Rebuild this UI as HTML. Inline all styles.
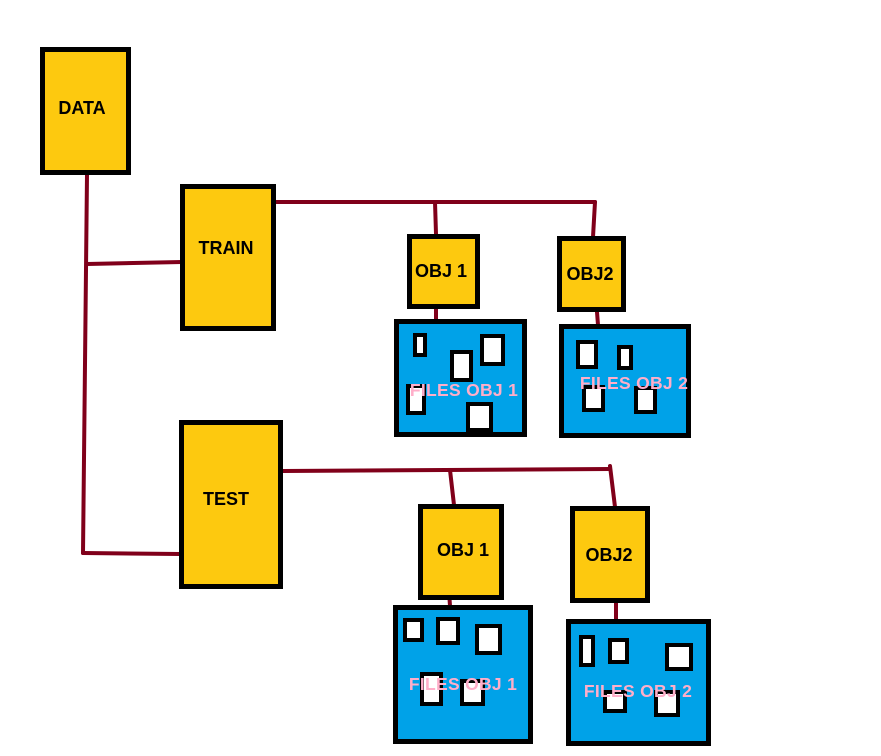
<!DOCTYPE html>
<html><head><meta charset="utf-8"><style>html,body{margin:0;padding:0;background:#fff}svg{display:block}</style></head>
<body>
<svg width="881" height="756" xmlns="http://www.w3.org/2000/svg" font-family="Liberation Sans, sans-serif" font-weight="bold">
<g stroke="#80001a" stroke-width="4" fill="none" stroke-linecap="round">
<line x1="87" y1="175" x2="83" y2="553"/>
<line x1="87" y1="264" x2="182" y2="262"/>
<line x1="83" y1="553" x2="180" y2="554"/>
<line x1="276" y1="202" x2="595" y2="202"/>
<line x1="435" y1="202" x2="436" y2="234"/>
<line x1="595" y1="202" x2="593" y2="237"/>
<line x1="436" y1="309" x2="436" y2="320"/>
<line x1="597" y1="312" x2="598" y2="325"/>
<line x1="283" y1="471" x2="610" y2="469"/>
<line x1="450" y1="470" x2="454" y2="505"/>
<line x1="610" y1="466" x2="615" y2="507"/>
<line x1="449" y1="591" x2="450" y2="606"/>
<line x1="616" y1="603" x2="616" y2="620"/>
</g>
<g fill="#fdc90f" stroke="#000" stroke-width="5">
<rect x="42.5" y="49.5" width="86" height="123"/>
<rect x="182.5" y="186.5" width="91" height="142"/>
<rect x="181.5" y="422.5" width="99" height="164"/>
<rect x="409.5" y="236.5" width="68" height="70"/>
<rect x="559.5" y="238.5" width="64" height="71"/>
<rect x="420.5" y="506.5" width="81" height="91"/>
<rect x="572.5" y="508.5" width="75" height="92"/>
</g>
<g fill="#00a2e8" stroke="#000" stroke-width="5">
<rect x="396.5" y="321.5" width="128" height="113"/>
<rect x="561.5" y="326.5" width="127" height="109"/>
<rect x="395.5" y="607.5" width="135" height="134"/>
<rect x="568.5" y="621.5" width="140" height="122"/>
</g>
<g fill="#fff" stroke="#000" stroke-width="4">
<rect x="415" y="335" width="10" height="20"/>
<rect x="452" y="352" width="19" height="28"/>
<rect x="482" y="336" width="21" height="28"/>
<rect x="408" y="386" width="16" height="27"/>
<rect x="468" y="404" width="23" height="26"/>
<rect x="578" y="342" width="18" height="25"/>
<rect x="619" y="347" width="12" height="21"/>
<rect x="584" y="387" width="19" height="23"/>
<rect x="636" y="388" width="19" height="24"/>
<rect x="405" y="620" width="17" height="20"/>
<rect x="438" y="619" width="20" height="24"/>
<rect x="477" y="626" width="23" height="27"/>
<rect x="422" y="674" width="19" height="30"/>
<rect x="462" y="681" width="21" height="23"/>
<rect x="581" y="637" width="12" height="28"/>
<rect x="610" y="640" width="17" height="22"/>
<rect x="667" y="645" width="24" height="24"/>
<rect x="605" y="692" width="20" height="19"/>
<rect x="656" y="692" width="22" height="23"/>
</g>
<g font-size="18" fill="#000" text-anchor="middle">
<text x="82" y="114">DATA</text>
<text x="226" y="254">TRAIN</text>
<text x="226" y="505">TEST</text>
<text x="441" y="277">OBJ 1</text>
<text x="590" y="280">OBJ2</text>
<text x="463" y="556">OBJ 1</text>
<text x="609" y="561">OBJ2</text>
</g>
<g font-size="17.5" fill="#ffaec9" text-anchor="middle" letter-spacing="0.3">
<text x="464" y="396">FILES OBJ 1</text>
<text x="634" y="389">FILES OBJ 2</text>
<text x="463" y="690">FILES OBJ 1</text>
<text x="638" y="697">FILES OBJ 2</text>
</g>
</svg>
</body></html>
